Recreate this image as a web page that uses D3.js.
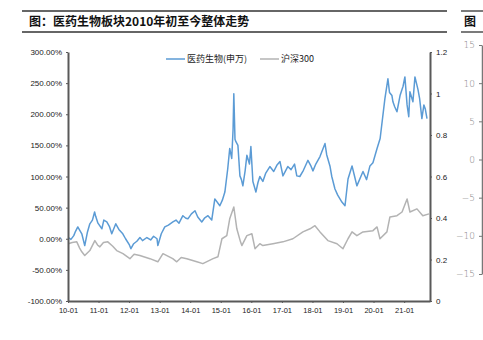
<!DOCTYPE html>
<html><head><meta charset="utf-8">
<script src="https://cdn.jsdelivr.net/npm/d3@7"></script>
<style>
html,body{margin:0;padding:0;background:#fff;}
svg{display:block;font-family:"Liberation Sans",Arial,sans-serif;}
</style></head>
<body><svg id="c" width="483" height="340"></svg>
<script>
const title = "图：医药生物板块2010年初至今整体走势";
const seriesNames = ["医药生物(申万)", "沪深300"];
const leftTicks = [-100, -50, 0, 50, 100, 150, 200, 250, 300];
const rightTicks = [0, 0.2, 0.4, 0.6, 0.8, 1, 1.2];
const sideTicks = [-15, -10, -5, 0, 5, 10, 15];

const medDates = ["2010-01-04","2010-02-05","2010-03-11","2010-04-01","2010-04-28","2010-05-20","2010-06-15","2010-07-20","2010-08-20","2010-09-19","2010-10-20","2010-11-15","2010-11-28","2010-12-25","2011-02-10","2011-03-05","2011-04-10","2011-05-10","2011-06-08","2011-07-26","2011-09-01","2011-10-18","2011-11-20","2012-01-05","2012-01-23","2012-02-25","2012-04-03","2012-05-10","2012-06-10","2012-08-01","2012-09-15","2012-10-20","2012-11-30","2012-12-10","2013-01-20","2013-03-03","2013-04-15","2013-06-08","2013-07-15","2013-08-20","2013-10-05","2013-11-10","2013-12-04","2014-01-15","2014-02-27","2014-04-01","2014-05-19","2014-06-20","2014-08-01","2014-09-15","2014-10-22","2014-12-21","2015-01-20","2015-02-19","2015-03-25","2015-04-18","2015-05-12","2015-05-28","2015-06-06","2015-06-20","2015-07-01","2015-07-25","2015-08-18","2015-09-05","2015-09-22","2015-10-20","2015-11-09","2015-12-10","2015-12-27","2016-01-20","2016-02-25","2016-03-20","2016-04-12","2016-05-18","2016-06-20","2016-08-10","2016-09-25","2016-11-01","2016-12-09","2017-01-13","2017-03-12","2017-04-20","2017-06-01","2017-06-28","2017-08-03","2017-09-15","2017-11-08","2017-12-10","2018-01-07","2018-02-10","2018-04-01","2018-05-31","2018-06-20","2018-07-29","2018-08-20","2018-09-27","2018-10-30","2018-12-19","2019-01-25","2019-03-02","2019-04-19","2019-05-20","2019-06-16","2019-08-28","2019-10-10","2019-11-19","2019-12-25","2020-02-12","2020-03-20","2020-05-16","2020-06-21","2020-07-10","2020-08-08","2020-08-20","2020-09-10","2020-10-07","2020-11-13","2020-12-19","2021-01-10","2021-02-05","2021-02-25","2021-03-11","2021-04-16","2021-05-10","2021-06-15","2021-07-05","2021-08-01","2021-08-25","2021-09-10","2021-10-01","2021-11-06"];
const medValues = [2,-1,5,12,19,14,8,-11,10,24,30,43,36,25,16,30,27,20,8,24,15,8,0,-10,-16,-8,-4,2,-3,2,-2,4,0,-11,8,19,22,27,30,25,37,33,32,40,45,35,27,33,37,30,64,53,62,75,112,145,129,175,233,160,156,150,101,95,85,110,134,120,148,92,75,90,100,92,105,116,108,118,124,101,116,111,120,101,100,110,126,118,109,120,132,153,135,117,100,80,70,59,53,96,117,100,85,108,95,117,122,145,161,225,257,235,230,220,212,204,230,245,260,215,196,236,220,260,240,225,193,215,209,193];

const hsDates = ["2010-01-04","2010-02-20","2010-04-16","2010-05-20","2010-06-15","2010-07-20","2010-09-19","2010-11-18","2010-12-20","2011-01-17","2011-03-01","2011-04-22","2011-06-20","2011-08-06","2011-10-20","2012-01-11","2012-03-01","2012-05-09","2012-09-06","2012-12-10","2013-02-09","2013-06-06","2013-07-24","2013-09-15","2013-11-21","2014-03-21","2014-06-01","2014-10-01","2014-11-28","2015-01-15","2015-03-14","2015-04-18","2015-06-06","2015-07-12","2015-08-25","2015-09-10","2015-11-09","2016-01-08","2016-02-14","2016-04-12","2016-05-18","2016-09-16","2017-01-13","2017-05-12","2017-09-09","2017-12-03","2018-01-31","2018-04-01","2018-07-04","2018-10-21","2019-01-01","2019-03-02","2019-04-19","2019-06-16","2019-08-28","2019-12-25","2020-02-12","2020-03-18","2020-06-09","2020-07-15","2020-10-07","2020-12-07","2021-02-05","2021-03-11","2021-06-03","2021-08-12","2021-10-25"];
const hsValues = [-8,-6,-5,-15,-21,-27,-19,-3,-10,-13,-6,-5,-12,-19,-24,-32,-25,-27,-32,-37,-24,-32,-37,-30,-32,-37,-40,-32,-29,0,5,32,51,16,-5,-11,5,8,-16,-8,-11,-8,-5,0,11,16,21,11,-3,-8,-16,0,11,5,11,13,19,0,11,35,37,43,64,43,48,37,40];

const parse = d3.timeParse("%Y-%m-%d");
const svg = d3.select("#c");
const axisColor = "#595959";

// Title bars
svg.append("line").attr("x1",22).attr("x2",447).attr("y1",11).attr("y2",11).attr("stroke","#333").attr("stroke-width",1.3);
svg.append("line").attr("x1",22).attr("x2",447).attr("y1",32).attr("y2",32).attr("stroke","#333").attr("stroke-width",1.3);
svg.append("text").attr("x",29).attr("y",26).attr("font-family","'Noto Sans CJK SC',sans-serif").attr("font-weight","bold").attr("font-size",12).attr("fill","#111").text(title);
svg.append("line").attr("x1",461).attr("x2",483).attr("y1",11).attr("y2",11).attr("stroke","#333").attr("stroke-width",1.3);
svg.append("line").attr("x1",461).attr("x2",483).attr("y1",32).attr("y2",32).attr("stroke","#333").attr("stroke-width",1.3);
svg.append("text").attr("x",464).attr("y",26).attr("font-family","'Noto Sans CJK SC',sans-serif").attr("font-weight","bold").attr("font-size",12).attr("fill","#111").text("图");

// Scales
const x = d3.scaleTime().domain([parse("2010-01-01"), parse("2021-11-06")]).range([68, 430]);
const yL = d3.scaleLinear().domain([-100, 300]).range([301, 52]);
const yR = d3.scaleLinear().domain([0, 1.2]).range([301, 52]);
const yS = d3.scaleLinear().domain([-15, 15]).range([274, 45]);

// Lines
const line = d3.line().x(d => x(d[0])).y(d => yL(d[1]));
const hsData = hsDates.map((d,i) => [parse(d), hsValues[i]]);
const medData = medDates.map((d,i) => [parse(d), medValues[i]]);
svg.append("path").datum(hsData).attr("d", line).attr("fill","none").attr("stroke","#b3b3b3").attr("stroke-width",1.5).attr("stroke-linejoin","round");
svg.append("path").datum(medData).attr("d", line).attr("fill","none").attr("stroke","#5b9bd5").attr("stroke-width",1.5).attr("stroke-linejoin","round");

// Axes
function styleAxis(g, fs){
  g.select(".domain").attr("stroke",axisColor).attr("stroke-width",2);
  g.selectAll(".tick line").attr("stroke",axisColor).attr("stroke-width",1);
  g.selectAll(".tick text").attr("fill","#222").attr("font-size",fs).attr("font-family","'Liberation Sans',Arial,sans-serif");
}
const gL = svg.append("g").attr("transform","translate(68,0)")
  .call(d3.axisLeft(yL).tickValues(leftTicks).tickFormat(d => d.toFixed(2) + "%").tickSize(2).tickSizeOuter(0).tickPadding(4));
styleAxis(gL, 8);
const gR = svg.append("g").attr("transform","translate(430,0)")
  .call(d3.axisRight(yR).tickValues(rightTicks).tickFormat(d => String(+d.toFixed(1))).tickSize(2).tickSizeOuter(0).tickPadding(4));
styleAxis(gR, 8);
const gX = svg.append("g").attr("transform","translate(0,301)")
  .call(d3.axisBottom(x).ticks(d3.timeYear.every(1)).tickFormat(d3.timeFormat("%y-%m")).tickSize(2).tickSizeOuter(0).tickPadding(5));
styleAxis(gX, 7.5);

// Side panel axis
const gS = svg.append("g").attr("transform","translate(482,0)")
  .call(d3.axisLeft(yS).tickValues(sideTicks).tickSize(3).tickSizeOuter(0).tickPadding(4));
gS.select(".domain").attr("stroke","#777").attr("stroke-width",1.5);
gS.selectAll(".tick line").attr("stroke","#777");
gS.selectAll(".tick text").attr("fill","#808080").attr("font-size",9).attr("font-family","'DejaVu Sans',sans-serif").attr("font-weight",300);

// Legend
const legend = [{name: seriesNames[0], color:"#5b9bd5", x:166}, {name: seriesNames[1], color:"#b3b3b3", x:260}];
legend.forEach(l => {
  svg.append("line").attr("x1",l.x).attr("x2",l.x+19).attr("y1",59).attr("y2",59).attr("stroke",l.color).attr("stroke-width",1.5);
  svg.append("text").attr("x",l.x+21).attr("y",62).attr("font-size",9).attr("font-family","'Noto Sans CJK SC',sans-serif").attr("fill","#222").text(l.name);
});
</script></body></html>
